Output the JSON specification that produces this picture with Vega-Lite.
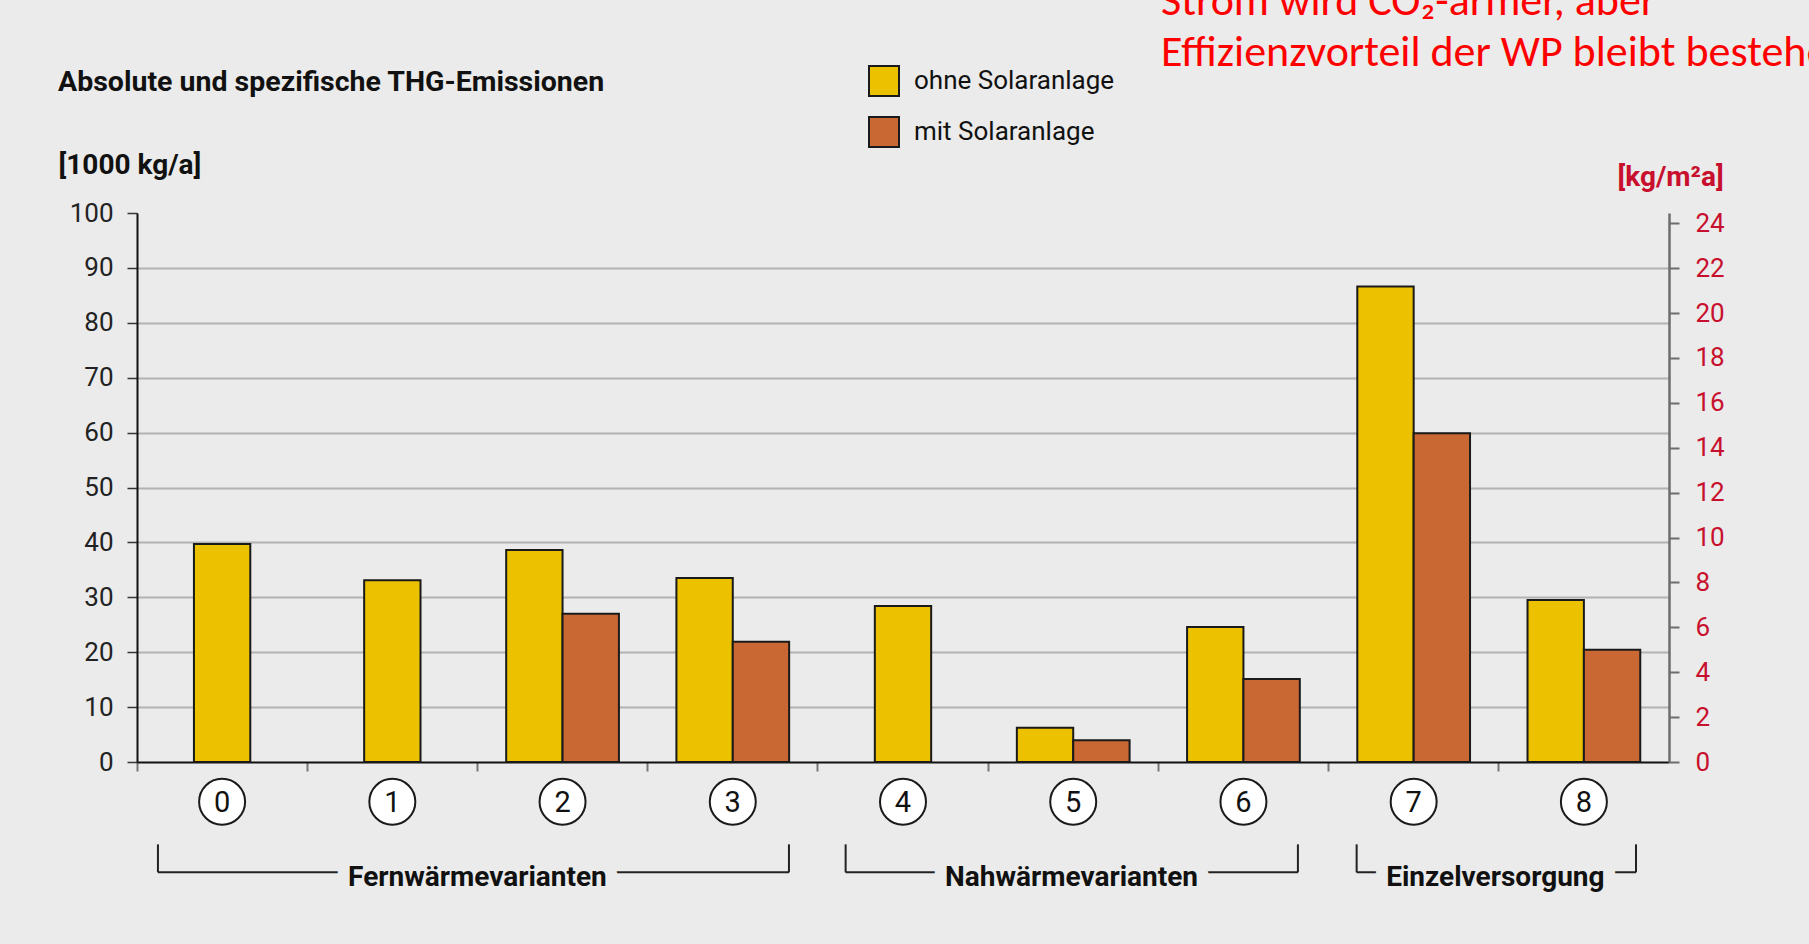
{
  "$schema": "https://vega.github.io/schema/vega-lite/v6.json",
  "width": 1532,
  "height": 549,
  "autosize": {"type": "none"},
  "padding": {"left": 137, "top": 213, "right": 140, "bottom": 182},
  "background": "#eaebea",
  "title": {
    "text": "Absolute und spezifische THG-Emissionen",
    "anchor": "start",
    "frame": "group",
    "orient": "top",
    "dx": -79,
    "offset": -140,
    "baseline": "alphabetic",
    "font": "Roboto",
    "fontSize": 28.5,
    "fontWeight": "bold",
    "color": "#111111"
  },
  "config": {
    "font": "Roboto",
    "view": {"stroke": null},
    "axis": {"labelFont": "Roboto", "titleFont": "Roboto"},
    "legend": {"labelFont": "Roboto"}
  },
  "datasets": {
    "emissionen": [
      {"variante": "0", "anlage": "ohne Solaranlage", "wert": 39.7},
      {"variante": "1", "anlage": "ohne Solaranlage", "wert": 33.1},
      {"variante": "2", "anlage": "ohne Solaranlage", "wert": 38.6},
      {"variante": "2", "anlage": "mit Solaranlage", "wert": 27.0},
      {"variante": "3", "anlage": "ohne Solaranlage", "wert": 33.5},
      {"variante": "3", "anlage": "mit Solaranlage", "wert": 21.9},
      {"variante": "4", "anlage": "ohne Solaranlage", "wert": 28.4},
      {"variante": "5", "anlage": "ohne Solaranlage", "wert": 6.25},
      {"variante": "5", "anlage": "mit Solaranlage", "wert": 3.95},
      {"variante": "6", "anlage": "ohne Solaranlage", "wert": 24.6},
      {"variante": "6", "anlage": "mit Solaranlage", "wert": 15.1},
      {"variante": "7", "anlage": "ohne Solaranlage", "wert": 86.6},
      {"variante": "7", "anlage": "mit Solaranlage", "wert": 59.9},
      {"variante": "8", "anlage": "ohne Solaranlage", "wert": 29.5},
      {"variante": "8", "anlage": "mit Solaranlage", "wert": 20.45}
    ],
    "gruppen": [
      {"gruppe": "Fernwärmevarianten", "von": 0.123, "bis": 3.83, "mitte": 2.0},
      {"gruppe": "Nahwärmevarianten", "von": 4.163, "bis": 6.82, "mitte": 5.49},
      {"gruppe": "Einzelversorgung", "von": 7.165, "bis": 8.806, "mitte": 7.98}
    ]
  },
  "layer": [
    {
      "data": {"name": "emissionen"},
      "layer": [
        {
          "transform": [
            {"joinaggregate": [{"op": "count", "as": "n"}], "groupby": ["variante"]},
            {"filter": "datum.n == 2"}
          ],
          "mark": {"type": "bar", "stroke": "#1a1a1a", "strokeWidth": 2},
          "encoding": {
            "x": {
              "field": "variante",
              "type": "nominal",
              "scale": {"domain": ["0", "1", "2", "3", "4", "5", "6", "7", "8"], "paddingInner": 0, "paddingOuter": 0},
              "axis": {
                "labels": false,
                "title": null,
                "bandPosition": 0,
                "domainColor": "#111111",
                "domainWidth": 2,
                "tickColor": "#777777",
                "tickSize": 9,
                "tickWidth": 2
              }
            },
            "xOffset": {
              "field": "anlage",
              "type": "nominal",
              "scale": {"domain": ["ohne Solaranlage", "mit Solaranlage"], "paddingInner": 0, "paddingOuter": 0.51}
            },
            "y": {
              "field": "wert",
              "type": "quantitative",
              "scale": {"domain": [0, 100], "nice": false},
              "axis": {
                "values": [0, 10, 20, 30, 40, 50, 60, 70, 80, 90, 100],
                "title": "[1000 kg/a]",
                "titleAngle": 0,
                "titleAlign": "left",
                "titleBaseline": "middle",
                "titleX": -79,
                "titleY": -48,
                "titleFontSize": 28,
                "titleFontWeight": "bold",
                "titleColor": "#111111",
                "labelFontSize": 26,
                "labelColor": "#222222",
                "labelPadding": 14,
                "domainColor": "#111111",
                "domainWidth": 2,
                "tickColor": "#333333",
                "tickSize": 10,
                "tickWidth": 1.5,
                "grid": true,
                "gridColor": "#b2b2b2",
                "gridWidth": 2,
                "gridOpacity": {"condition": {"test": "datum.value === 0 || datum.value === 100", "value": 0}, "value": 1}
              }
            },
            "color": {
              "field": "anlage",
              "type": "nominal",
              "scale": {"domain": ["ohne Solaranlage", "mit Solaranlage"], "range": ["#ecc100", "#c96832"]},
              "legend": {
                "orient": "none",
                "legendX": 731,
                "legendY": -148,
                "title": null,
                "padding": 0,
                "symbolType": "square",
                "symbolSize": 900,
                "symbolStrokeColor": "#1a1a1a",
                "symbolStrokeWidth": 2,
                "symbolOpacity": 1,
                "labelFontSize": 26,
                "labelLimit": 400,
                "labelColor": "#111111",
                "labelOffset": 14,
                "rowPadding": 13
              }
            }
          }
        },
        {
          "transform": [
            {"joinaggregate": [{"op": "count", "as": "n"}], "groupby": ["variante"]},
            {"filter": "datum.n == 1"}
          ],
          "mark": {"type": "bar", "stroke": "#1a1a1a", "strokeWidth": 2, "width": {"band": 0.331}},
          "encoding": {
            "x": {"field": "variante", "type": "nominal"},
            "y": {"field": "wert", "type": "quantitative"},
            "color": {"field": "anlage", "type": "nominal"}
          }
        },
        {
          "transform": [{"filter": "datum.anlage == 'ohne Solaranlage'"}],
          "mark": {"type": "point", "shape": "circle", "filled": true, "fill": "#ffffff", "stroke": "#1a1a1a", "strokeWidth": 2, "size": 2116, "opacity": 1},
          "encoding": {
            "x": {"field": "variante", "type": "nominal"},
            "y": {"datum": -7.23, "type": "quantitative"}
          }
        },
        {
          "transform": [{"filter": "datum.anlage == 'ohne Solaranlage'"}],
          "mark": {"type": "text", "fontSize": 29, "color": "#111111", "baseline": "middle", "align": "center", "dy": 1},
          "encoding": {
            "x": {"field": "variante", "type": "nominal"},
            "y": {"datum": -7.23, "type": "quantitative"},
            "text": {"field": "variante"}
          }
        }
      ]
    },
    {
      "data": {"name": "gruppen"},
      "layer": [
        {
          "mark": {"type": "rule", "color": "#222222", "strokeWidth": 2},
          "encoding": {
            "x": {"field": "von", "type": "quantitative", "scale": {"domain": [0, 9], "nice": false, "zero": false}, "axis": null},
            "x2": {"field": "bis"},
            "y": {"datum": -20.1, "type": "quantitative", "scale": {"domain": [0, 100], "nice": false}, "axis": null}
          }
        },
        {
          "mark": {"type": "rule", "color": "#222222", "strokeWidth": 2},
          "encoding": {
            "x": {"field": "von", "type": "quantitative"},
            "y": {"datum": -15.0, "type": "quantitative"},
            "y2": {"datum": -20.1}
          }
        },
        {
          "mark": {"type": "rule", "color": "#222222", "strokeWidth": 2},
          "encoding": {
            "x": {"field": "bis", "type": "quantitative"},
            "y": {"datum": -15.0, "type": "quantitative"},
            "y2": {"datum": -20.1}
          }
        },
        {
          "mark": {"type": "text", "fontSize": 28, "fontWeight": "bold", "align": "center", "baseline": "alphabetic", "fill": "#eaebea", "stroke": "#eaebea", "strokeWidth": 24, "strokeJoin": "round"},
          "encoding": {
            "x": {"field": "mitte", "type": "quantitative"},
            "y": {"datum": -22.6, "type": "quantitative"},
            "text": {"field": "gruppe"}
          }
        },
        {
          "mark": {"type": "text", "fontSize": 28, "fontWeight": "bold", "align": "center", "baseline": "alphabetic", "color": "#111111"},
          "encoding": {
            "x": {"field": "mitte", "type": "quantitative"},
            "y": {"datum": -22.6, "type": "quantitative"},
            "text": {"field": "gruppe"}
          }
        },
        {
          "data": {"values": [{}]},
          "mark": {"type": "text", "align": "left", "baseline": "alphabetic", "font": "Carlito, Lato, sans-serif", "fontSize": 44, "lineHeight": 51, "color": "#ff0000"},
          "encoding": {
            "x": {"datum": 6.016, "type": "quantitative"},
            "y": {"datum": 136.1, "type": "quantitative"},
            "text": {"value": ["Strom wird CO₂-ärmer, aber", "Effizienzvorteil der WP bleibt bestehen"]}
          }
        }
      ]
    },
    {
      "data": {"values": [{}]},
      "mark": {"type": "rule", "opacity": 0},
      "encoding": {
        "y": {
          "datum": 0,
          "type": "quantitative",
          "scale": {"domain": [0, 24.46], "nice": false},
          "axis": {
            "orient": "right",
            "values": [0, 2, 4, 6, 8, 10, 12, 14, 16, 18, 20, 22, 24],
            "grid": false,
            "title": "[kg/m²a]",
            "titleAngle": 0,
            "titleAlign": "left",
            "titleBaseline": "middle",
            "titleX": -52,
            "titleY": -36,
            "titleFontSize": 28,
            "titleFontWeight": "bold",
            "titleColor": "#c8102e",
            "labelFontSize": 26,
            "labelColor": "#c8102e",
            "labelPadding": 16,
            "domainColor": "#6d6d6d",
            "domainWidth": 2.5,
            "tickColor": "#6d6d6d",
            "tickSize": 10,
            "tickWidth": 2
          }
        }
      }
    }
  ],
  "resolve": {"scale": {"x": "independent", "y": "independent"}}
}
